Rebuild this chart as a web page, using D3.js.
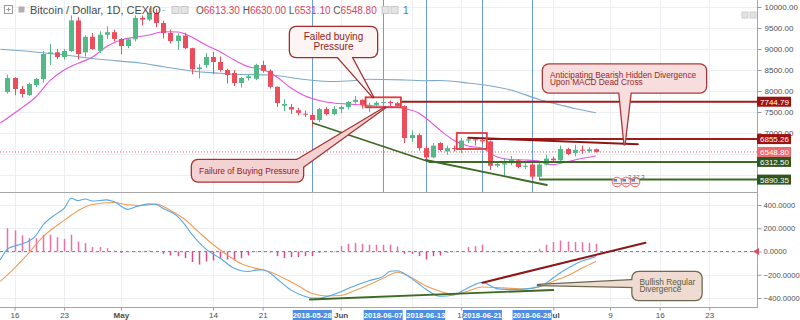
<!DOCTYPE html>
<html>
<head>
<meta charset="utf-8">
<script src="https://cdn.jsdelivr.net/npm/d3@7"></script>
<style>
  body { margin: 0; background: #fff; }
  svg { display: block; font-family: "Liberation Sans", Arial, sans-serif; }
</style>
</head>
<body>
<div class="svg-container"></div>
<script>
// Daily candles BTC/USD on CEXIO, one per day starting at firstDay
const firstDay = '2018-04-15';
const open = [7976, 8310, 8048, 7905, 8143, 8286, 8880, 8920, 8810, 8952,
    9680, 8920, 9290, 8960, 9340, 9400, 9240, 9070, 9230, 9740,
    9700, 9860, 9620, 9380, 9190, 9320, 9020, 8520, 8620, 8810,
    8690, 8500, 8430, 8190, 8310, 8290, 8620, 8480, 8100, 7650,
    7620, 7540, 7460, 7430, 7310, 7570, 7450, 7570, 7620, 7740,
    7790, 7620, 7670, 7720, 7740, 7710, 7640, 6880, 6950, 6640,
    6420, 6760, 6560, 6640, 6600, 6820, 6850, 6830, 6800, 6220,
    6250, 6280, 6350, 6200, 6250, 5960, 6250, 6390, 6350, 6620,
    6520, 6600, 6570, 6613.3];
const high = [8390, 8330, 8120, 8200, 8310, 8950, 9120, 9000, 9000, 9800,
    9760, 9330, 9380, 9420, 9540, 9460, 9260, 9260, 9800, 9800,
    9970, 9960, 9680, 9460, 9370, 9390, 9030, 8640, 8900, 8930,
    8820, 8530, 8500, 8330, 8400, 8650, 8720, 8520, 8110, 7800,
    7690, 7600, 7540, 7480, 7600, 7620, 7640, 7660, 7760, 7880,
    7800, 7720, 7760, 7840, 7770, 7740, 7660, 7060, 6990, 6700,
    6760, 6780, 6700, 6700, 6880, 6880, 6880, 6880, 6820, 6300,
    6400, 6450, 6380, 6280, 6280, 6280, 6480, 6440, 6700, 6650,
    6720, 6700, 6660, 6630];
const low = [7940, 7900, 7850, 7880, 8090, 8200, 8620, 8760, 8750, 8930,
    8750, 8820, 8980, 8900, 9240, 9180, 8880, 9020, 9180, 9560,
    9660, 9520, 9250, 9130, 8980, 9000, 8400, 8300, 8550, 8400,
    8460, 8180, 8120, 8080, 8250, 8260, 8440, 8060, 7620, 7520,
    7450, 7420, 7380, 7150, 7260, 7420, 7420, 7470, 7560, 7700,
    7580, 7500, 7620, 7700, 7640, 7620, 6760, 6780, 6580, 6312,
    6400, 6560, 6480, 6560, 6520, 6760, 6700, 6740, 6120, 6180,
    5950, 6230, 6160, 6140, 5890, 5900, 6230, 6300, 6300, 6470,
    6440, 6500, 6530, 6531.1];
const close = [8310, 8048, 7929, 8167, 8286, 8881, 8920, 8810, 8952, 9680,
    8880, 9290, 9000, 9340, 9400, 9240, 9070, 9230, 9740, 9700,
    9860, 9620, 9380, 9190, 9320, 9020, 8520, 8560, 8810, 8690,
    8500, 8380, 8190, 8310, 8350, 8620, 8480, 8100, 7714, 7690,
    7560, 7480, 7450, 7310, 7570, 7450, 7570, 7620, 7740, 7790,
    7670, 7670, 7720, 7740, 7710, 7640, 6880, 6950, 6640, 6420,
    6700, 6595, 6640, 6620, 6820, 6850, 6830, 6800, 6220, 6260,
    6280, 6370, 6190, 6220, 5960, 6250, 6390, 6350, 6620, 6500,
    6600, 6580, 6610, 6548.8];

// MACD histogram, one bar per candle
const histogram = [201, 181, 138, 115, 115, 144, 144, 124, 109, 144, 86, 72, 38, 38, 29, 9,
    -12, 3, -3, 4, 8, 3, -20, -34, -40, -57, -91, -112, -86, -77, -63, -69, -77, -57, -34, -5,
    -3, -8, -40, -57, -48, -48, -40, -40, -11, -3, 5,
    46, 66, 75, 66, 58, 58, 58, 58, 43, -20, -20, -40, -69, -40, -34, -11, -3, 4, 38, 46,
    58, 3, -3, -6, -3, -2, 2, 3, 23, 58,
    81, 95, 86, 81, 81, 75, 66];

// Moving averages
const fastMaDates = ['2018-04-14', '2018-04-17', '2018-04-19', '2018-04-21', '2018-04-23', '2018-04-25',
    '2018-04-27', '2018-04-29', '2018-05-01', '2018-05-03', '2018-05-05', '2018-05-07', '2018-05-09',
    '2018-05-11', '2018-05-13', '2018-05-15', '2018-05-17', '2018-05-19', '2018-05-21', '2018-05-23',
    '2018-05-25', '2018-05-27', '2018-05-29', '2018-05-31', '2018-06-02', '2018-06-04', '2018-06-06',
    '2018-06-08', '2018-06-10', '2018-06-12', '2018-06-13', '2018-06-15', '2018-06-17', '2018-06-19',
    '2018-06-21', '2018-06-23', '2018-06-25', '2018-06-27', '2018-06-29', '2018-06-30', '2018-07-01',
    '2018-07-03', '2018-07-05', '2018-07-07'];
const fastMaValues = [7238, 7595, 7857, 8245, 8500, 8660, 8810, 9060, 9214, 9280, 9333, 9412, 9405,
    9286, 9095, 8936, 8738, 8579, 8512, 8333, 8071, 7881, 7774, 7714, 7690, 7667, 7643, 7631, 7583,
    7476, 7357, 7071, 6821, 6690, 6636, 6436, 6369, 6357, 6333, 6262, 6250, 6321, 6393, 6452];
const slowMaDates = ['2018-04-14', '2018-04-20', '2018-04-23', '2018-04-28', '2018-05-04', '2018-05-07',
    '2018-05-11', '2018-05-15', '2018-05-17', '2018-05-22', '2018-05-27', '2018-05-31', '2018-06-03',
    '2018-06-05', '2018-06-10', '2018-06-13', '2018-06-15', '2018-06-19', '2018-06-23', '2018-06-25',
    '2018-06-29', '2018-07-02', '2018-07-04', '2018-07-07'];
const slowMaValues = [8993, 8912, 8857, 8755, 8660, 8579, 8476, 8421, 8398, 8381, 8274, 8226, 8250,
    8279, 8262, 8245, 8250, 8190, 8095, 8024, 7798, 7667, 7583, 7483];

// MACD and signal lines
const macdDates = ['2018-04-14', '2018-04-15', '2018-04-16', '2018-04-17', '2018-04-19', '2018-04-20',
    '2018-04-22', '2018-04-23', '2018-04-24', '2018-04-25', '2018-04-26', '2018-04-27', '2018-04-29',
    '2018-04-30', '2018-05-02', '2018-05-03', '2018-05-05', '2018-05-06', '2018-05-07', '2018-05-09',
    '2018-05-10', '2018-05-11', '2018-05-13', '2018-05-15', '2018-05-17', '2018-05-18', '2018-05-19',
    '2018-05-20', '2018-05-21', '2018-05-22', '2018-05-23', '2018-05-25', '2018-05-27', '2018-05-28',
    '2018-05-29', '2018-05-31', '2018-06-03', '2018-06-05', '2018-06-07', '2018-06-08', '2018-06-09',
    '2018-06-10', '2018-06-12', '2018-06-13', '2018-06-15', '2018-06-17', '2018-06-19', '2018-06-21',
    '2018-06-23', '2018-06-25', '2018-06-28', '2018-06-30', '2018-07-01', '2018-07-02', '2018-07-04',
    '2018-07-06', '2018-07-07'];
const macdValues = [-72, 21, 47, 64, 136, 226, 328, 370, 458, 438, 451, 434, 444, 430, 362, 383, 410,
    404, 370, 302, 234, 149, 21, -58, -145, -166, -172, -160, -157, -183, -234, -332, -387, -400,
    -400, -370, -294, -251, -214, -170, -166, -191, -277, -323, -385, -374, -311, -266, -319, -328,
    -315, -271, -226, -183, -111, -64, -44];
const signalDates = ['2018-04-14', '2018-04-16', '2018-04-18', '2018-04-20', '2018-04-23', '2018-04-25',
    '2018-04-27', '2018-04-30', '2018-05-02', '2018-05-04', '2018-05-06', '2018-05-08', '2018-05-10',
    '2018-05-12', '2018-05-14', '2018-05-16', '2018-05-18', '2018-05-20', '2018-05-22', '2018-05-24',
    '2018-05-26', '2018-05-28', '2018-05-30', '2018-06-01', '2018-06-03', '2018-06-05', '2018-06-07',
    '2018-06-09', '2018-06-11', '2018-06-13', '2018-06-15', '2018-06-17', '2018-06-19', '2018-06-21',
    '2018-06-24', '2018-06-27', '2018-06-29', '2018-07-01', '2018-07-03', '2018-07-05', '2018-07-07'];
const signalValues = [-257, -143, -13, 126, 268, 353, 404, 421, 402, 396, 409, 353, 277, 166, 60, -30,
    -106, -145, -174, -230, -294, -362, -383, -379, -336, -285, -230, -179, -226, -294, -342, -370,
    -340, -305, -313, -322, -306, -255, -209, -145, -87];

// Axis ticks (grid lines on all of them, labels where the chart shows one)
const priceTicks = [6000, 6500, 7000, 7500, 8000, 8500, 9000, 9500, 10000];
const priceLabelTicks = [7000, 7500, 8000, 8500, 9000, 9500, 10000];
const macdTicks = [-400, -200, 0, 200, 400];
const timeTicks = ['2018-04-16', '2018-04-23', '2018-05-01', '2018-05-14', '2018-05-21', '2018-05-28',
    '2018-06-01', '2018-06-11', '2018-06-18', '2018-07-01', '2018-07-09', '2018-07-16', '2018-07-23'];
const timeLabelTicks = ['2018-04-16', '2018-04-23', '2018-05-01', '2018-05-14', '2018-05-21',
    '2018-06-01', '2018-06-18', '2018-07-01', '2018-07-09', '2018-07-16', '2018-07-23'];
const timeLabels = ['16', '23', 'May', '14', '21', 'Jun', '18', 'Jul', '9', '16', '23'];
const markedDates = ['2018-05-28', '2018-06-07', '2018-06-13', '2018-06-21', '2018-06-28'];

// Drawings (date, price)
const levelPrices = [7744.79, 6855.26, 6312.50, 5890.35];
const levelStarts = ['2018-06-09T12:00Z', '2018-06-21T15:00Z', '2018-06-13T12:00Z', '2018-06-29T00:00Z'];
const lastPrice = 6548.80;
const boxes = [
    [['2018-06-04T12:30Z', 7850], ['2018-06-09T12:00Z', 7612]],
    [['2018-06-17T09:00Z', 7000], ['2018-06-21T15:00Z', 6619]]
];
const redTrend = [['2018-06-19T00:00Z', 6888], ['2018-07-12T22:00Z', 6731]];
const greenTrends = [
    [['2018-05-28T02:00Z', 7238], ['2018-06-13T14:00Z', 6310]],
    [['2018-06-13T00:00Z', 6357], ['2018-06-30T02:00Z', 5762]]
];
const macdRedTrend = [['2018-06-21T00:00Z', -268], ['2018-07-14T00:00Z', 76]];
const macdGreenTrend = [['2018-05-27T16:00Z', -413], ['2018-07-01T00:00Z', -331]];

/** Layout **/
const width = 800, height = 320;
const plotW = 757;
const mainBottom = 192;
const macdTop = 193, macdBottom = 307;

const svg = d3.select('.svg-container').append('svg')
    .attr('width', width)
    .attr('height', height);

const parseDate = s => s.length > 10 ? d3.isoParse(s) : d3.utcParse('%Y-%m-%d')(s);
const days = d3.utcDay.range(parseDate(firstDay), d3.utcDay.offset(parseDate(firstDay), open.length));
const candles = days.map((d, i) => ({date: d, o: open[i], h: high[i], l: low[i], c: close[i], hist: histogram[i]}));

const x = d3.scaleUtc()
    .domain([parseDate('2018-04-16'), parseDate('2018-07-23')])
    .range([14.5, 709.3]);
const y = d3.scaleLinear().domain([6000, 10000]).range([175, 7]);
const ym = d3.scaleLinear().domain([-400, 400]).range([298, 205]);

const defs = svg.append('defs');
defs.append('clipPath').attr('id', 'clip-main').append('rect')
    .attr('x', 0).attr('y', 0).attr('width', plotW).attr('height', mainBottom);
defs.append('clipPath').attr('id', 'clip-macd').append('rect')
    .attr('x', 0).attr('y', macdTop).attr('width', plotW).attr('height', macdBottom - macdTop);

/** Helper functions **/
function hline(parent, x1, x2, yy, color, w, dash) {
    return parent.append('line')
        .attr('x1', x1).attr('x2', x2).attr('y1', yy).attr('y2', yy)
        .attr('stroke', color).attr('stroke-width', w)
        .attr('stroke-dasharray', dash || null);
}

function segment(parent, pts, yScale, color, w) {
    return parent.append('line')
        .attr('x1', x(parseDate(pts[0][0]))).attr('y1', yScale(pts[0][1]))
        .attr('x2', x(parseDate(pts[1][0]))).attr('y2', yScale(pts[1][1]))
        .attr('stroke', color).attr('stroke-width', w).attr('stroke-linecap', 'round');
}

function seriesLine(parent, dates, values, yScale, color) {
    const pts = dates.map((d, i) => [x(parseDate(d)), yScale(values[i])]);
    return parent.append('path')
        .attr('d', d3.line().curve(d3.curveMonotoneX)(pts))
        .attr('fill', 'none').attr('stroke', color).attr('stroke-width', 1.1);
}

function axisLabel(parent, yy, text, bg) {
    parent.append('rect').attr('x', plotW).attr('y', yy - 5).attr('width', 34).attr('height', 10).attr('fill', bg);
    parent.append('text').attr('x', plotW + 3).attr('y', yy + 3).attr('font-size', 8)
        .attr('fill', '#fff').text(text);
}

// callout: box + tail, outline drawn as union (thick stroke under fill)
function renderCallout(parent, c) {
    const g = parent.append('g');
    const shapes = (layer) => {
        layer.append('rect').attr('x', c.x).attr('y', c.y).attr('width', c.w).attr('height', c.h).attr('rx', 6);
        layer.append('path').attr('d', d3.line()([c.base[0], c.tip, c.base[1]]) + 'Z');
    };
    shapes(g.append('g').attr('fill', c.stroke).attr('stroke', c.stroke)
        .attr('stroke-width', 2.6).attr('stroke-linejoin', 'round'));
    shapes(g.append('g').attr('fill', c.fill));
    c.lines.forEach((line, i) => {
        g.append('text')
            .attr('x', c.align === 'middle' ? c.x + c.w / 2 : c.x + 7)
            .attr('y', c.textY + i * c.lineH)
            .attr('text-anchor', c.align === 'middle' ? 'middle' : 'start')
            .attr('font-size', c.size)
            .attr('fill', c.color)
            .text(line);
    });
    return g;
}

/** Grid **/
const grid = svg.append('g').attr('stroke', '#eceef1').attr('stroke-width', 1);
timeTicks.forEach(t => {
    const xx = Math.round(x(parseDate(t))) + 0.5;
    grid.append('line').attr('x1', xx).attr('x2', xx).attr('y1', 0).attr('y2', macdBottom);
});
priceTicks.forEach(p => hline(grid, 0, plotW, Math.round(y(p)) + 0.5, '#eceef1', 1));
macdTicks.forEach(v => hline(grid, 0, plotW, Math.round(ym(v)) + 0.5, '#eceef1', 1));

/** Main pane **/
const main = svg.append('g').attr('clip-path', 'url(#clip-main)');

// user marked vertical lines
markedDates.forEach(d => {
    const xx = Math.round(x(parseDate(d))) + 0.5;
    main.append('line').attr('x1', xx).attr('x2', xx).attr('y1', 0).attr('y2', mainBottom)
        .attr('stroke', '#6a9be0').attr('stroke-width', 1);
});

// last price dotted line
hline(main, 0, plotW, y(lastPrice), '#ef5a60', 1, '1,2');

seriesLine(main, slowMaDates, slowMaValues, y, '#7ea9c9');
seriesLine(main, fastMaDates, fastMaValues, y, '#e354e0');

// candles
const candleG = main.append('g');
candles.forEach(d => {
    const color = d.c >= d.o ? '#53b987' : '#eb4d5c';
    const cx = Math.round(x(d.date)) + 0.5;
    candleG.append('line').attr('x1', cx).attr('x2', cx).attr('y1', y(d.h)).attr('y2', y(d.l))
        .attr('stroke', color).attr('stroke-width', 1);
    candleG.append('rect')
        .attr('x', cx - 2.5).attr('width', 5)
        .attr('y', y(Math.max(d.o, d.c)))
        .attr('height', Math.max(1, Math.abs(y(d.o) - y(d.c))))
        .attr('fill', color);
});

// horizontal levels
levelPrices.forEach((p, i) => {
    hline(main, x(parseDate(levelStarts[i])), plotW, y(p), i < 2 ? '#9e1c1c' : '#3d6a24', 2);
});

// trend lines
greenTrends.forEach(t => segment(main, t, y, '#3d6a24', 1.8));
segment(main, redTrend, y, '#8e1616', 2);

// rectangles
boxes.forEach(b => {
    const x0 = x(parseDate(b[0][0])), x1 = x(parseDate(b[1][0]));
    main.append('rect')
        .attr('x', x0).attr('y', y(b[0][1]))
        .attr('width', x1 - x0).attr('height', y(b[1][1]) - y(b[0][1]))
        .attr('fill', 'none').attr('stroke', '#e23b3b').attr('stroke-width', 1.8);
});

// events markers
const ev = main.append('g');
[617, 626, 635].forEach((cx, i) => {
    ev.append('circle').attr('cx', cx).attr('cy', 182).attr('r', 4.8)
        .attr('fill', '#fbeaea').attr('stroke', '#ef6b6b').attr('stroke-width', 1);
    ev.append('rect').attr('x', cx - 3.5).attr('y', 179).attr('width', 3.5).attr('height', 2.5).attr('fill', '#5b7fd0');
    ev.append('path').attr('d', `M${cx - 3.5},183.5 H${cx + 3.5}`).attr('stroke', '#ef6b6b').attr('stroke-width', 1);
});
ev.append('text').attr('x', 628).attr('y', 178.5).attr('font-size', 6).attr('fill', '#666').text('3 12 3');

/** MACD pane **/
const macd = svg.append('g').attr('clip-path', 'url(#clip-macd)');
hline(macd, 0, plotW, ym(0), '#e35d74', 1, '3,3');

candles.forEach(d => {
    const cx = Math.round(x(d.date)) + 0.5;
    macd.append('line').attr('x1', cx).attr('x2', cx).attr('y1', ym(0)).attr('y2', ym(d.hist))
        .attr('stroke', d.hist >= 0 ? '#ec6fa6' : '#d84c8c').attr('stroke-width', 1.5);
});

seriesLine(macd, signalDates, signalValues, ym, '#f29b55');
seriesLine(macd, macdDates, macdValues, ym, '#58a8e8');
segment(macd, macdGreenTrend, ym, '#3d6a24', 1.8);
segment(macd, macdRedTrend, ym, '#8e1616', 2);

/** Callouts **/
const notes = svg.append('g');
renderCallout(notes, {
    x: 290, y: 27, w: 87, h: 30, tip: [373, 97], base: [[335, 54], [350, 54]],
    fill: '#fdf4f4', stroke: '#a12b2b', color: '#8e1f1f',
    lines: ['Failed buying', 'Pressure'], align: 'middle', size: 10, textY: 39.5, lineH: 10.5
});
renderCallout(notes, {
    x: 192, y: 160, w: 111, h: 21.5, tip: [385, 107.5], base: [[292, 163], [300, 169]],
    fill: '#f5d2d2', stroke: '#a83232', color: '#8e2424',
    lines: ['Failure of Buying Pressure'], align: 'start', size: 8.5, textY: 173.8, lineH: 0
});
renderCallout(notes, {
    x: 543, y: 64.5, w: 163, h: 28, tip: [624.5, 144.3], base: [[619, 89], [631, 89]],
    fill: '#f7dddd', stroke: '#a83a3a', color: '#952a2a',
    lines: ['Anticipating Bearish Hidden Divergence', 'Upon MACD Dead Cross'], align: 'start',
    size: 8.3, textY: 77.8, lineH: 7.6
});
renderCallout(notes, {
    x: 632.5, y: 272, w: 69, h: 28, tip: [538, 285], base: [[636, 280], [636, 287]],
    fill: '#efdbd1', stroke: '#6b6b50', color: '#5b5b3c',
    lines: ['Bullish Regular', 'Divergence'], align: 'start', size: 8.3, textY: 284.5, lineH: 7.6
});

/** Separators and axes **/
hline(svg, 0, plotW, mainBottom + 0.5, '#a6a6a6', 1);
hline(svg, 0, plotW, macdBottom + 0.5, '#a6a6a6', 1);
svg.append('line').attr('x1', plotW + 0.5).attr('x2', plotW + 0.5).attr('y1', 0).attr('y2', macdBottom + 1)
    .attr('stroke', '#a6a6a6');

function styleAxis(g, size) {
    g.select('.domain').remove();
    g.selectAll('.tick line').attr('stroke', '#9a9a9a');
    g.selectAll('.tick text').attr('fill', '#4d4d4d').attr('font-size', size || 8)
        .attr('font-family', '"Liberation Sans", Arial, sans-serif');
}

svg.append('g').attr('transform', `translate(${plotW + 0.5},0)`)
    .call(d3.axisRight(y).tickValues(priceLabelTicks).tickFormat(d3.format('.2f')).tickSize(4).tickPadding(3))
    .call(g => styleAxis(g, 8));
svg.append('g').attr('transform', `translate(${plotW + 0.5},0)`)
    .call(d3.axisRight(ym).tickValues(macdTicks).tickFormat(d3.format('.4f')).tickSize(4).tickPadding(2))
    .call(g => styleAxis(g, 7.6));

const timeAxis = svg.append('g').attr('transform', `translate(0,${macdBottom + 0.5})`)
    .call(d3.axisBottom(x).tickValues(timeLabelTicks.map(parseDate)).tickFormat((d, i) => timeLabels[i])
        .tickSize(3).tickPadding(2))
    .call(g => styleAxis(g, 8));
timeAxis.selectAll('.tick text')
    .attr('font-weight', (d, i) => ['May', 'Jun', 'Jul'].includes(timeLabels[i]) ? 'bold' : null);

// highlighted dates of the vertical lines
markedDates.forEach(d => {
    const xx = x(parseDate(d));
    svg.append('rect').attr('x', xx - 19.5).attr('y', 310).attr('width', 39).attr('height', 10).attr('fill', '#4f8de0');
    svg.append('text').attr('x', xx).attr('y', 317.8).attr('text-anchor', 'middle')
        .attr('font-size', 7.6).attr('font-weight', 'bold').attr('fill', '#fff').text(d);
});

// price labels on the axis
const labels = svg.append('g');
levelPrices.forEach((p, i) => {
    axisLabel(labels, y(p), d3.format('.2f')(p), i < 2 ? '#9e1212' : '#2f561c');
});
axisLabel(labels, y(lastPrice), d3.format('.2f')(lastPrice), '#ee6a70');
labels.append('path')
    .attr('d', `M${plotW - 4},${ym(0)} L${plotW + 2},${ym(0) - 3.5} L${plotW + 2},${ym(0) + 3.5} Z`)
    .attr('fill', '#e2485e');

/** Header **/
const header = svg.append('g');
header.append('rect').attr('x', 4.5).attr('y', 5.5).attr('width', 8).attr('height', 8)
    .attr('fill', '#fff').attr('stroke', '#9a9a9a');
header.append('path').attr('d', 'M8.5,7.5 V11.5 M6.5,9.5 H10.5').attr('stroke', '#9a9a9a');
header.append('rect').attr('x', 18.5).attr('y', 6.5).attr('width', 6).attr('height', 6).attr('fill', '#b0b0b0');
header.append('text').attr('x', 30).attr('y', 14).attr('font-size', 11).attr('fill', '#4a4a4a')
    .text('Bitcoin / Dollar, 1D, CEXIO');
header.append('text').attr('x', 162).attr('y', 13).attr('font-size', 9).attr('fill', '#999').text('-');
[172, 181].forEach(xx => header.append('rect').attr('x', xx).attr('y', 6.5).attr('width', 7).attr('height', 7)
    .attr('fill', '#e4e4e4').attr('stroke', '#c8c8c8'));
const last = candles[candles.length - 1];
const ohlc = header.append('text').attr('x', 196).attr('y', 14).attr('font-size', 10);
[['O', last.o], ['H', last.h], ['L', last.l], ['C', last.c]].forEach(([k, v], i) => {
    ohlc.append('tspan').attr('fill', '#555').text((i ? ' ' : '') + k);
    ohlc.append('tspan').attr('fill', '#e0435a').text(d3.format('.2f')(v));
});
[382, 391].forEach(xx => header.append('rect').attr('x', xx).attr('y', 6.5).attr('width', 7).attr('height', 7)
    .attr('fill', '#e4e4e4').attr('stroke', '#c8c8c8'));
header.append('text').attr('x', 403).attr('y', 14).attr('font-size', 10).attr('fill', '#3c78d8').text('1');
[742, 750].forEach(xx => header.append('rect').attr('x', xx).attr('y', 12).attr('width', 6).attr('height', 6)
    .attr('fill', '#e2e2e2').attr('stroke', '#cfcfcf'));
</script>
</body>
</html>
